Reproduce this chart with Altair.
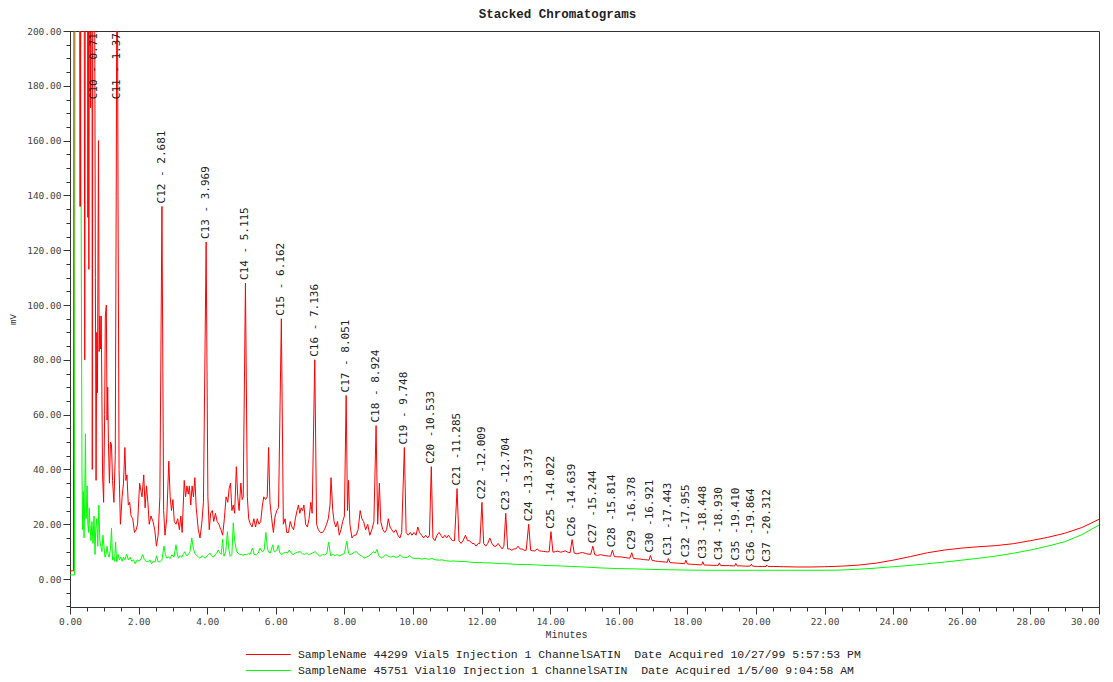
import altair as alt
import pandas as pd

# ---------------- data ----------------
series_names = [
    "SampleName 44299 Vial5 Injection 1 ChannelSATIN\u00a0 Date Acquired 10/27/99 5:57:53 PM",
    "SampleName 45751 Vial10 Injection 1 ChannelSATIN\u00a0 Date Acquired 1/5/00 9:04:58 AM",
]
series_colors = ["#ff0000", "#00ff00"]

red_t = [0.00, 0.10, 0.12, 0.28, 0.30, 0.32, 0.41, 0.43, 0.45, 0.51, 0.52, 0.535, 0.55, 0.565, 0.60, 0.62,
         0.64, 0.65, 0.67, 0.71, 0.74, 0.76, 0.78, 0.80, 0.83, 0.85, 0.87, 0.89, 0.91, 0.95, 0.98, 1.01,
         1.03, 1.06, 1.08, 1.10, 1.12, 1.15, 1.18, 1.21, 1.24, 1.28, 1.32, 1.35, 1.373, 1.40, 1.43, 1.47,
         1.52, 1.56, 1.60, 1.63, 1.66, 1.70, 1.74, 1.78, 1.83, 1.88, 1.93, 1.97, 2.03, 2.07, 2.10, 2.15,
         2.19, 2.23, 2.27, 2.31, 2.36, 2.42, 2.47, 2.52, 2.57, 2.62, 2.681, 2.73, 2.77, 2.82, 2.88, 2.92,
         2.96, 3.00, 3.04, 3.09, 3.14, 3.19, 3.23, 3.27, 3.33, 3.37, 3.41, 3.45, 3.48, 3.52, 3.56, 3.60,
         3.64, 3.68, 3.74, 3.79, 3.84, 3.89, 3.969, 4.02, 4.06, 4.10, 4.15, 4.19, 4.24, 4.29, 4.34, 4.40,
         4.45, 4.50, 4.55, 4.60, 4.64, 4.68, 4.72, 4.76, 4.80, 4.85, 4.89, 4.93, 4.98, 5.02, 5.05, 5.115,
         5.17, 5.21, 5.26, 5.31, 5.36, 5.41, 5.46, 5.51, 5.56, 5.61, 5.65, 5.70, 5.75, 5.79, 5.83, 5.88,
         5.93, 5.98, 6.03, 6.08, 6.162, 6.22, 6.27, 6.32, 6.37, 6.42, 6.47, 6.52, 6.57, 6.62, 6.66, 6.70,
         6.74, 6.78, 6.82, 6.87, 6.92, 6.97, 7.02, 7.06, 7.136, 7.19, 7.24, 7.30, 7.36, 7.42, 7.48, 7.53,
         7.58, 7.61, 7.66, 7.70, 7.75, 7.80, 7.85, 7.90, 7.95, 8.00, 8.051, 8.09, 8.12, 8.16, 8.22, 8.28,
         8.34, 8.40, 8.46, 8.51, 8.56, 8.62, 8.68, 8.74, 8.80, 8.86, 8.924, 8.97, 9.02, 9.06, 9.12, 9.18,
         9.23, 9.28, 9.33, 9.38, 9.44, 9.50, 9.56, 9.62, 9.67, 9.748, 9.80, 9.86, 9.92, 9.97, 10.03, 10.09,
         10.14, 10.19, 10.25, 10.31, 10.37, 10.43, 10.48, 10.533, 10.58, 10.64, 10.70, 10.76, 10.81, 10.87,
         10.93, 10.98, 11.03, 11.09, 11.15, 11.21, 11.285, 11.34, 11.40, 11.46, 11.53, 11.59, 11.65, 11.72,
         11.78, 11.84, 11.90, 11.95, 12.009, 12.06, 12.12, 12.18, 12.24, 12.30, 12.36, 12.42, 12.48, 12.54,
         12.60, 12.65, 12.704, 12.76, 12.82, 12.88, 12.94, 13.00, 13.06, 13.12, 13.18, 13.24, 13.30, 13.373,
         13.43, 13.49, 13.55, 13.62, 13.68, 13.74, 13.80, 13.86, 13.92, 13.97, 14.022, 14.08, 14.15, 14.22,
         14.30, 14.37, 14.44, 14.51, 14.58, 14.639, 14.70, 14.78, 14.86, 14.94, 15.02, 15.10, 15.18, 15.244,
         15.30, 15.38, 15.46, 15.54, 15.62, 15.70, 15.76, 15.814, 15.87, 15.95, 16.05, 16.15, 16.25, 16.32,
         16.378, 16.43, 16.52, 16.62, 16.72, 16.82, 16.88, 16.921, 16.97, 17.06, 17.16, 17.26, 17.36, 17.41,
         17.443, 17.49, 17.60, 17.72, 17.84, 17.92, 17.955, 18.00, 18.12, 18.24, 18.36, 18.42, 18.448, 18.49,
         18.60, 18.72, 18.84, 18.90, 18.930, 18.97, 19.10, 19.22, 19.34, 19.38, 19.410, 19.45, 19.58, 19.70,
         19.82, 19.864, 19.90, 20.05, 20.20, 20.30, 20.312, 20.35, 20.5, 20.8, 21.2, 21.6, 22.0, 22.5,
         23.0, 23.5, 24.0, 24.5, 25.0, 25.5, 26.0, 26.5, 27.0, 27.5, 28.0, 28.5, 29.0, 29.5, 30.0]
red_v = [3.0, 3.0, 260, 260, 136, 260, 260, 80, 260, 260, 132, 260, 113, 260, 172, 260,
         260, 40, 260, 260, 110, 36, 90, 68, 160, 83, 96, 84, 96, 38, 28, 60,
         96, 100, 58, 70, 50, 35, 50, 49, 36, 28, 45, 150, 260, 140, 40, 20,
         30, 35, 48, 36, 38, 27, 28, 23, 22, 17, 18, 20, 35, 32, 30, 38,
         26, 34, 28, 20, 23, 21, 18, 12, 16, 30, 136, 25, 16, 22, 43, 30,
         25, 29, 21, 20, 22, 18, 23, 17, 36, 30, 34, 31, 34, 27, 34, 30,
         37, 26, 18, 15, 20, 28, 123, 30, 18, 24, 25, 21, 24, 21, 20, 18,
         16, 22, 30, 28, 33, 35, 25, 27, 24, 41, 30, 25, 35, 29, 30, 108,
         30, 22, 20, 19, 22, 19, 22, 20, 21, 27, 30, 29, 30, 48, 28, 22,
         17, 23, 25, 26, 95, 20, 22, 17, 17, 21, 19, 18, 22, 25, 27, 24,
         26, 25, 27, 20, 19, 22, 28, 24, 80, 20, 18, 17, 17, 18, 20, 22,
         27, 37, 25, 21, 19, 21, 16, 18, 21, 23, 67, 25, 36, 20, 15, 16,
         16, 18, 25, 22, 21, 18, 20, 16, 18, 21, 56, 20, 35, 21, 18, 17,
         18, 22, 19, 18, 17, 18, 16, 15, 17, 48, 17, 16, 17, 16, 17, 16,
         19, 17, 16, 15, 16, 15, 16, 41, 15, 14, 16, 17, 16, 15,
         16, 15, 16, 15, 14, 14, 33, 14, 13, 14, 16, 14, 14, 13,
         13, 12, 13, 13, 28, 13, 12, 13, 15, 13, 12, 12, 13, 12,
         11, 12, 24, 11, 11, 10.5, 11, 11, 12, 11, 11, 10.5, 10.5, 20,
         10.5, 10.3, 10.3, 11, 10.3, 10.2, 10.1, 10.0, 9.9, 10.0, 17.3, 9.8, 10.0, 10.2,
         9.8, 10.0, 10.3, 9.8, 9.6, 14.4, 9.5, 9.2, 9.5, 9.7, 9.4, 9.1, 9.0, 12.0,
         8.9, 8.6, 8.9, 8.7, 8.5, 8.4, 8.3, 10.5, 8.2, 8.1, 8.1, 7.9, 7.7, 7.6,
         9.6, 7.5, 7.4, 7.3, 7.1, 7.0, 6.9, 8.6, 6.8, 6.6, 6.4, 6.3, 6.2, 6.1,
         7.5, 6.0, 5.9, 5.8, 5.7, 5.6, 6.9, 5.5, 5.4, 5.3, 5.2, 5.2, 6.3, 5.1,
         5.1, 5.0, 5.0, 5.0, 5.9, 4.9, 4.9, 4.9, 4.8, 4.8, 5.7, 4.8, 4.8, 4.7,
         4.7, 5.4, 4.7, 4.6, 4.6, 4.6, 5.1, 4.6, 4.6, 4.5, 4.4, 4.4, 4.5, 4.7,
         5.1, 5.8, 6.9, 8.2, 9.6, 10.6, 11.3, 11.8, 12.2, 12.9, 14.0, 15.2, 16.7, 18.8, 21.8]

green_t = [0.00, 0.13, 0.15, 0.27, 0.29, 0.31, 0.33, 0.35, 0.37, 0.39, 0.41, 0.43, 0.45, 0.47, 0.50, 0.52,
           0.54, 0.56, 0.58, 0.61, 0.64, 0.67, 0.70, 0.73, 0.75, 0.78, 0.81, 0.84, 0.87, 0.90, 0.93, 0.96,
           0.99, 1.02, 1.05, 1.08, 1.11, 1.14, 1.18, 1.21, 1.24, 1.27, 1.30, 1.33, 1.36, 1.40, 1.44, 1.48,
           1.52, 1.56, 1.60, 1.65, 1.70, 1.75, 1.80, 1.85, 1.90, 1.96, 2.02, 2.07, 2.12, 2.17, 2.22, 2.28,
           2.33, 2.38, 2.43, 2.48, 2.52, 2.57, 2.62, 2.68, 2.74, 2.78, 2.82, 2.87, 2.92, 2.97, 3.03, 3.09,
           3.13, 3.16, 3.21, 3.26, 3.30, 3.35, 3.40, 3.45, 3.50, 3.55, 3.60, 3.64, 3.70, 3.75, 3.79, 3.85,
           3.90, 3.94, 4.00, 4.04, 4.08, 4.13, 4.18, 4.23, 4.28, 4.32, 4.37, 4.41, 4.45, 4.49, 4.54, 4.59,
           4.63, 4.67, 4.72, 4.76, 4.80, 4.86, 4.90, 4.95, 5.00, 5.05, 5.10, 5.15, 5.20, 5.25, 5.32, 5.37,
           5.44, 5.49, 5.54, 5.60, 5.66, 5.71, 5.75, 5.78, 5.84, 5.91, 5.95, 5.98, 6.03, 6.07, 6.12, 6.17,
           6.23, 6.29, 6.34, 6.39, 6.45, 6.51, 6.57, 6.63, 6.71, 6.77, 6.84, 6.90, 6.95, 7.02, 7.08, 7.15,
           7.22, 7.29, 7.36, 7.43, 7.49, 7.54, 7.60, 7.66, 7.72, 7.78, 7.86, 7.94, 8.00, 8.07, 8.12, 8.15,
           8.22, 8.29, 8.35, 8.42, 8.50, 8.57, 8.64, 8.72, 8.79, 8.85, 8.90, 8.95, 9.00, 9.08, 9.14, 9.21,
           9.28, 9.35, 9.42, 9.50, 9.58, 9.62, 9.68, 9.76, 9.84, 9.91, 9.98, 10.06, 10.15, 10.25, 10.35, 10.45,
           10.55, 10.65, 10.75, 10.85, 10.95, 11.08, 11.20, 11.35, 11.50, 11.65, 11.80, 11.95, 12.08, 12.25,
           12.45, 12.65, 12.85, 13.05, 13.30, 13.55, 13.80, 14.00, 14.30, 14.60, 15.00, 15.40, 15.98, 16.50,
           17.00, 17.90, 18.50, 19.00, 19.90, 20.50, 21.00, 22.00, 22.50, 23.00, 23.50, 24.00, 24.50, 25.00,
           25.50, 26.00, 26.50, 27.00, 27.50, 28.00, 28.50, 29.00, 29.50, 30.00]
green_v = [1.5, 1.5, 260, 260, 136, 200, 112, 38, 18, 32, 15, 30, 53, 22, 34, 20,
           17, 26, 20, 14, 21, 13, 23, 9, 18, 22, 12, 27, 14, 12, 10, 16,
           12, 8, 9, 12, 9, 8, 11, 18.5, 7, 8, 6.5, 13.5, 6.3, 9, 7, 8,
           6.5, 8, 7, 9, 7, 8, 6.5, 7, 5.6, 7, 6.5, 7.5, 8.9, 7, 6.5, 6.3,
           7, 5.6, 6.5, 6.2, 8.5, 6.3, 6.3, 7, 12, 9, 7.6, 8, 7.5, 8.9, 8, 12.5,
           9, 7.6, 8.5, 8, 9, 10, 8.5, 8.9, 10, 15, 11, 9.4, 8.5, 8, 7.6, 8.5,
           8, 7.6, 8.5, 9, 9.5, 8.5, 8, 8.9, 9.5, 10.6, 9.5, 9, 14.5, 8.3, 10, 17.3,
           11, 8.3, 9, 20.5, 14, 10, 9.5, 9, 8.9, 8.7, 9, 8.9, 9.3, 9, 11.3, 9,
           8.9, 9.5, 11.3, 10, 10.5, 17, 12, 10, 9.5, 12.5, 10, 10, 10.5, 12.3, 9.5, 8.9,
           9.5, 9.8, 9.5, 10.6, 9.5, 8.9, 9.5, 9.8, 10, 9.3, 9, 9.5, 8.9, 9.2, 9.6, 10,
           9, 8.3, 9, 8.8, 9.5, 13.5, 8.5, 9, 8.6, 8.9, 8.5, 9, 9.3, 13.8, 9.5, 8.9,
           9.2, 9.8, 10, 9, 8.5, 7.6, 8, 8.5, 9.3, 10, 9.5, 10.8, 8.6, 7.7, 8.2, 8.9,
           8.3, 8.0, 8.4, 7.9, 8.2, 8.9, 8.1, 7.8, 8.0, 8.6, 7.7, 7.5, 7.6, 7.3, 7.5, 7.2,
           7.5, 7.0, 6.9, 7.0, 6.7, 6.5, 6.6, 6.4, 6.4, 6.2, 6.0, 6.1, 5.9, 5.9,
           5.7, 5.6, 5.5, 5.3, 5.3, 5.2, 5.0, 4.9, 4.8, 4.6, 4.4, 4.1, 3.8, 3.7,
           3.5, 3.3, 3.2, 3.2, 3.2, 3.2, 3.2, 3.2, 3.3, 3.6, 4.0, 4.5, 5.0, 5.6,
           6.2, 6.9, 7.6, 8.4, 9.4, 10.6, 12.0, 13.6, 16.2, 19.7]

peak_labels = ["C10 - 0.712", "C11 - 1.373", "C12 - 2.681", "C13 - 3.969", "C14 - 5.115",
               "C15 - 6.162", "C16 - 7.136", "C17 - 8.051", "C18 - 8.924", "C19 - 9.748",
               "C20 -10.533", "C21 -11.285", "C22 -12.009", "C23 -12.704", "C24 -13.373",
               "C25 -14.022", "C26 -14.639", "C27 -15.244", "C28 -15.814", "C29 -16.378",
               "C30 -16.921", "C31 -17.443", "C32 -17.955", "C33 -18.448", "C34 -18.930",
               "C35 -19.410", "C36 -19.864", "C37 -20.312"]
peak_times = [0.712, 1.373, 2.681, 3.969, 5.115, 6.162, 7.136, 8.051, 8.924, 9.748,
              10.533, 11.285, 12.009, 12.704, 13.373, 14.022, 14.639, 15.244, 15.814, 16.378,
              16.921, 17.443, 17.955, 18.448, 18.930, 19.410, 19.864, 20.312]
peak_heights = [174, 174, 136, 123, 108, 95, 80, 67, 56, 48,
                41, 33, 28, 24, 20, 17.3, 14.4, 12.0, 10.5, 9.6,
                8.6, 7.5, 6.9, 6.3, 5.9, 5.7, 5.4, 5.1]

x_ticks = [0, 2, 4, 6, 8, 10, 12, 14, 16, 18, 20, 22, 24, 26, 28, 30]
y_ticks = [0, 20, 40, 60, 80, 100, 120, 140, 160, 180, 200]
x_minor = [i * 0.5 for i in range(61)]
y_minor = [-10 + i * 5 for i in range(43)]

# ---------------- tables ----------------
df_red = pd.DataFrame({"t": red_t, "v": red_v, "series": series_names[0]})
df_green = pd.DataFrame({"t": green_t, "v": green_v, "series": series_names[1]})
df_lab = pd.DataFrame({"t": peak_times, "v": peak_heights, "label": peak_labels})

xscale = alt.Scale(domain=[0, 30], nice=False, zero=False)
yscale = alt.Scale(domain=[-10.2, 200], nice=False, zero=False)
cscale = alt.Scale(domain=series_names, range=series_colors)

AX_FONT = "DejaVu Sans Mono"
SERIF_MONO = "Liberation Mono"

legend = alt.Legend(
    title=None, orient="none", legendX=175, legendY=617, direction="vertical",
    symbolType="M-1,0H7", symbolSize=126, symbolStrokeWidth=1.2,
    labelFont=SERIF_MONO, labelFontSize=11.45, labelColor="#222", labelLimit=1000,
    labelOffset=40, rowPadding=4, padding=0,
)

x_major_axis = alt.Axis(
    values=x_ticks, format=".2f", orient="bottom", grid=False, labelFlush=False,
    labelAlign=alt.ExprRef(expr="datum.value >= 30 ? 'right' : 'center'"),
    tickSize=7, tickColor="#333", domainColor="#333",
    labelFont=AX_FONT, labelFontSize=9.5, labelColor="#444", labelPadding=2,
    title="Minutes", titleFont=SERIF_MONO, titleFontSize=10, titleFontWeight="normal",
    titleColor="#333", titleX=496, titleY=27, titleAlign="center", titleBaseline="middle",
)
y_major_axis = alt.Axis(
    values=y_ticks, format=".2f", orient="left", grid=False, labelFlush=False,
    tickSize=7, tickColor="#333", domainColor="#333",
    labelFont=AX_FONT, labelFontSize=9.5, labelColor="#444", labelPadding=2,
    title="mV", titleFont=SERIF_MONO, titleFontSize=9, titleFontWeight="normal",
    titleColor="#333", titleX=-58, titleY=288, titleAngle=270,
    titleAlign="center", titleBaseline="middle",
)
x_minor_axis = alt.Axis(values=x_minor, orient="bottom", grid=False, labels=False,
                        tickSize=4, tickColor="#333", domain=False, title=None)
y_minor_axis = alt.Axis(values=y_minor, orient="left", grid=False, labels=False,
                        tickSize=4, tickColor="#333", domain=False, title=None)

green_line = alt.Chart(df_green).mark_line(strokeWidth=1, clip=True).encode(
    x=alt.X("t:Q", scale=xscale, axis=x_major_axis),
    y=alt.Y("v:Q", scale=yscale, axis=y_major_axis),
    color=alt.Color("series:N", scale=cscale, legend=legend),
)
red_line = alt.Chart(df_red).mark_line(strokeWidth=1, clip=True).encode(
    x=alt.X("t:Q", scale=xscale, axis=x_minor_axis),
    y=alt.Y("v:Q", scale=yscale, axis=y_minor_axis),
    color=alt.Color("series:N", scale=cscale, legend=legend),
)
labels = alt.Chart(df_lab).mark_text(
    angle=270, align="left", baseline="middle", dx=3, clip=True,
    font=AX_FONT, fontSize=11, color="#222",
).encode(
    x=alt.X("t:Q", scale=xscale, axis=None),
    y=alt.Y("v:Q", scale=yscale, axis=None),
    text="label:N",
)

chart = alt.layer(green_line, red_line, labels).resolve_axis(
    x="independent", y="independent"
).properties(
    width=1029, height=576,
    autosize=alt.AutoSizeParams(type="none"),
    padding={"left": 62, "top": 23, "right": 6, "bottom": 72},
    title=alt.TitleParams(
        text="Stacked Chromatograms", font=SERIF_MONO, fontSize=12.5, fontWeight="bold",
        color="#222", anchor="middle", dx=-27, offset=6,
    ),
    background="white",
).configure_view(stroke="#333", strokeWidth=1)

chart.save("out.html", embed_options={"renderer": "svg", "actions": False})
